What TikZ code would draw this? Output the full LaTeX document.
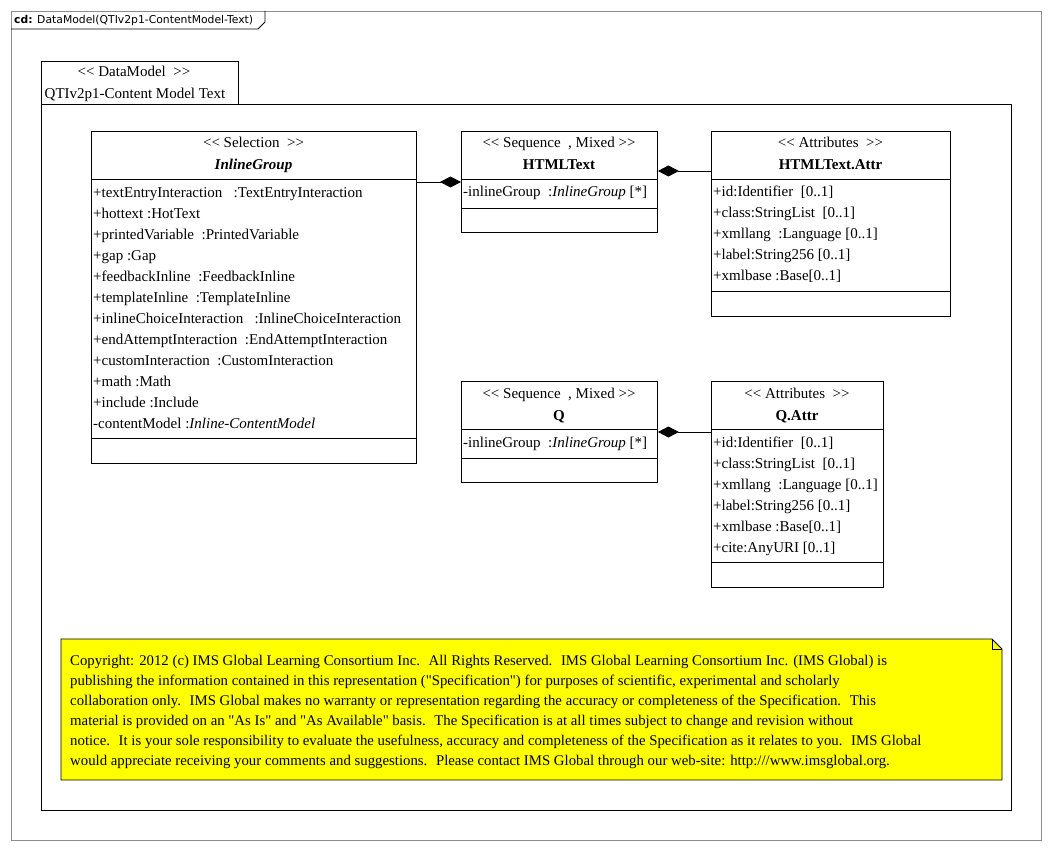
\documentclass[tikz,border=0pt]{standalone}
\usepackage{fontspec}
\setmainfont{Liberation Serif}[Ligatures=TeXOff]
\newfontfamily\framefont{DejaVu Sans}
\usetikzlibrary{arrows.meta,positioning,calc}
\definecolor{notebg}{HTML}{FFFF00}
\definecolor{framegray}{HTML}{8C8C8C}

\begin{document}
\begin{tikzpicture}[x=1pt,y=-1pt,
  cls/.style={draw,line width=0.9pt,anchor=north west,inner sep=0pt},
  head/.style={inner sep=0pt,anchor=base,font=\fontsize{15}{21}\selectfont},
  attrs/.style={inner sep=0pt,anchor=base west,align=left,
                font=\fontsize{15}{21}\selectfont},
  comp/.style={-{Diamond[length=21pt,width=11pt]},line width=0.9pt},
  sep/.style={line width=0.9pt}
]
\fill[white] (0,0) rectangle (1052,850);
\useasboundingbox (0,0) rectangle (1052,850);

% diagram frame
\draw[framegray,line width=0.9pt] (11,11) rectangle (1041,840);
\draw[line width=0.8pt] (11,29) -- (258,29) -- (265,22) -- (265,11);
\node[inner sep=0pt,anchor=base west,font=\framefont\fontsize{10.8}{12}\selectfont]
  (frm) at (14,24) {\textbf{cd:} DataModel(QTIv2p1-ContentModel-Text)};

% package
\draw[line width=0.9pt] (41,61) rectangle (238,104);
\draw[line width=0.9pt] (41,104) rectangle (1011,810);
\node[head] (pkst) at (134,77) {<< DataModel~ >>};
\node[head] (pkname) at (135,99) {QTIv2p1-Content Model Text};

% InlineGroup (multi-line nodes sit on their last baseline)
\node[cls,minimum width=325pt,minimum height=332pt] (ig) at (91,131) {};
\draw[sep] (91,179) -- (416,179);
\draw[sep] (91,438) -- (416,438);
\node[head] (igst) at (253.5,148) {<< Selection~ >>};
\node[head] (ignm) at (253.5,170) {\textbf{\textit{InlineGroup}}};
\node[attrs] (igat) at (93,428) {%
  +textEntryInteraction~~ :TextEntryInteraction\\
  +hottext :HotText\\
  +printedVariable~ :PrintedVariable\\
  +gap :Gap\\
  +feedbackInline~ :FeedbackInline\\
  +templateInline~ :TemplateInline\\
  +inlineChoiceInteraction~~ :InlineChoiceInteraction\\
  +endAttemptInteraction~ :EndAttemptInteraction\\
  +customInteraction~ :CustomInteraction\\
  +math :Math\\
  +include :Include\\
  -contentModel :\textit{Inline-ContentModel}};

% HTMLText
\node[cls,minimum width=196pt,minimum height=101pt] (ht) at (461,131) {};
\draw[sep] (461,179) -- (657,179);
\draw[sep] (461,208) -- (657,208);
\node[head] (htst) at (559,148) {<< Sequence~ , Mixed >>};
\node[head] (htnm) at (559,170) {\textbf{HTMLText}};
\node[attrs] (htat) at (463,197) {-inlineGroup~ :\textit{InlineGroup} [*]};

% HTMLText.Attr
\node[cls,minimum width=239pt,minimum height=185pt] (hta) at (711,131) {};
\draw[sep] (711,179) -- (950,179);
\draw[sep] (711,291) -- (950,291);
\node[head] (htast) at (830.5,148) {<< Attributes~ >>};
\node[head] (htanm) at (830.5,170) {\textbf{HTMLText.Attr}};
\node[attrs] (htaat) at (713,281) {%
  +id:Identifier~ [0..1]\\
  +class:StringList~ [0..1]\\
  +xmllang~ :Language [0..1]\\
  +label:String256 [0..1]\\
  +xmlbase :Base[0..1]};

% Q
\node[cls,minimum width=196pt,minimum height=101pt] (q) at (461,381) {};
\draw[sep] (461,429) -- (657,429);
\draw[sep] (461,458) -- (657,458);
\node[head] (qst) at (559,398) {<< Sequence~ , Mixed >>};
\node[head] (qnm) at (559,420) {\textbf{Q}};
\node[attrs] (qat) at (463,447) {-inlineGroup~ :\textit{InlineGroup} [*]};

% Q.Attr
\node[cls,minimum width=172pt,minimum height=206pt] (qa) at (711,381) {};
\draw[sep] (711,429) -- (883,429);
\draw[sep] (711,562) -- (883,562);
\node[head] (qast) at (797,398) {<< Attributes~ >>};
\node[head] (qanm) at (797,420) {\textbf{Q.Attr}};
\node[attrs] (qaat) at (713,552) {%
  +id:Identifier~ [0..1]\\
  +class:StringList~ [0..1]\\
  +xmllang~ :Language [0..1]\\
  +label:String256 [0..1]\\
  +xmlbase :Base[0..1]\\
  +cite:AnyURI [0..1]};

% compositions
\draw[comp] ($(ig.north east)+(0,51)$) -- ($(ht.north west)+(0,51)$);
\draw[comp] ($(hta.north west)+(0,40)$) -- ($(ht.north east)+(0,40)$);
\draw[comp] ($(qa.north west)+(0,51)$) -- ($(q.north east)+(0,51)$);

% copyright note
\draw[fill=notebg,line width=0.9pt] (61,639) -- (992,639) -- (1002,649)
  -- (1002,780) -- (61,780) -- cycle;
\draw[line width=0.7pt] (992,639) -- (992,649) -- (1002,649);
\node[attrs,font=\fontsize{14.8}{20}\selectfont] (note) at (70,765) {%
  Copyright: 2012 (c) IMS Global Learning Consortium Inc.~ All Rights Reserved.~ IMS Global Learning Consortium Inc. (IMS Global) is\\
  publishing the information contained in this representation ("Specification") for purposes of scientific, experimental and scholarly\\
  collaboration only.~ IMS Global makes no warranty or representation regarding the accuracy or completeness of the Specification.~ This\\
  material is provided on an "As Is" and "As Available" basis.~ The Specification is at all times subject to change and revision without\\
  notice.~ It is your sole responsibility to evaluate the usefulness, accuracy and completeness of the Specification as it relates to you.~ IMS Global\\
  would appreciate receiving your comments and suggestions.~ Please contact IMS Global through our web-site: http:///www.imsglobal.org.};
\end{tikzpicture}
\end{document}
